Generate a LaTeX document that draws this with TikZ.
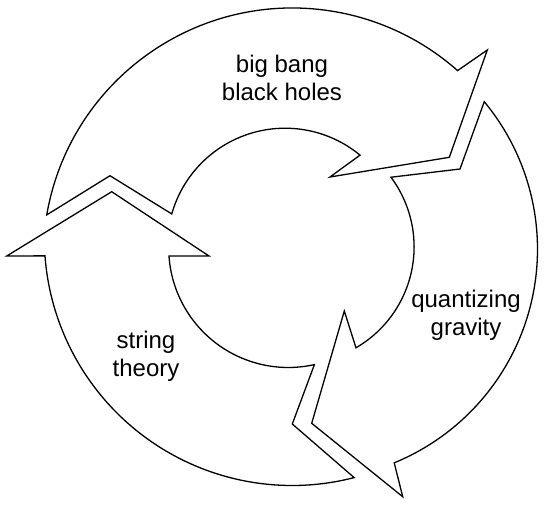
\documentclass[tikz,border=0pt]{standalone}
\usepackage{fontspec}
\setmainfont{Liberation Sans}
\begin{document}
\begin{tikzpicture}[x=1pt,y=1pt,yscale=-1,
  cyc/.style={draw=black,fill=white,line width=1.3pt,line join=miter},
  lbl/.style={align=center,font=\fontsize{24}{28}\selectfont,inner sep=0pt}]
\useasboundingbox (0,0) rectangle (545,504);
% centres
\coordinate (CTo) at (292.4,257.3);
\coordinate (CTi) at (285.1,246);
\coordinate (CRo) at (306.6,249.2);
\coordinate (CRi) at (297.5,246.9);
\coordinate (CLo) at (292.1,237.7);
\coordinate (CLi) at (288.3,247.9);
% top arrow
\path (CTo) ++(-170.2:249.3pt) coordinate (T1);
\coordinate (T2) at (487.3,50);
\coordinate (T3) at (449.3,157.3);
\coordinate (T4) at (330,177);
\path (CTi) ++(-50.5:117.8pt) coordinate (T5);
\coordinate (T6) at (110,175.7);
\draw[cyc] (T1) arc[start angle=-170.2, end angle=-48.5, radius=249.3pt]
  -- (T2) -- (T3) -- (T4) -- (T5)
  arc[start angle=-50.5, end angle=-164.2, radius=117.8pt] -- (T6) -- cycle;
% right arrow
\path (CRo) ++(-39.7:230.9pt) coordinate (R1);
\coordinate (R2) at (402.7,496.7);
\coordinate (R3) at (311.7,423.3);
\coordinate (R4) at (344.3,311);
\path (CRi) ++(59.9:116.6pt) coordinate (R5);
\coordinate (R6) at (460,169);
\draw[cyc] (R1) arc[start angle=-39.7, end angle=67.7, radius=230.9pt]
  -- (R2) -- (R3) -- (R4) -- (R5)
  arc[start angle=59.9, end angle=-36.7, radius=116.6pt] -- (R6) -- cycle;
% left arrow
\path (CLo) ++(75.5:247.8pt) coordinate (L1);
\coordinate (L2) at (6.7,256);
\coordinate (L3) at (111.7,191.7);
\coordinate (L4) at (209,256);
\path (CLi) ++(176.1:119.6pt) coordinate (L5);
\coordinate (L6) at (292.3,424);
\draw[cyc] (L1) arc[start angle=75.5, end angle=175.8, radius=247.8pt]
  -- (L2) -- (L3) -- (L4) -- (L5)
  arc[start angle=176.1, end angle=77.4, radius=119.6pt] -- (L6) -- cycle;
% labels
\node[lbl] (t1) at (282,78) {big bang\\black holes};
\node[lbl] (t2) at (466,315) {quantizing\\gravity};
\node[lbl] (t3) at (146,356) {string\\theory};
\end{tikzpicture}
\end{document}
